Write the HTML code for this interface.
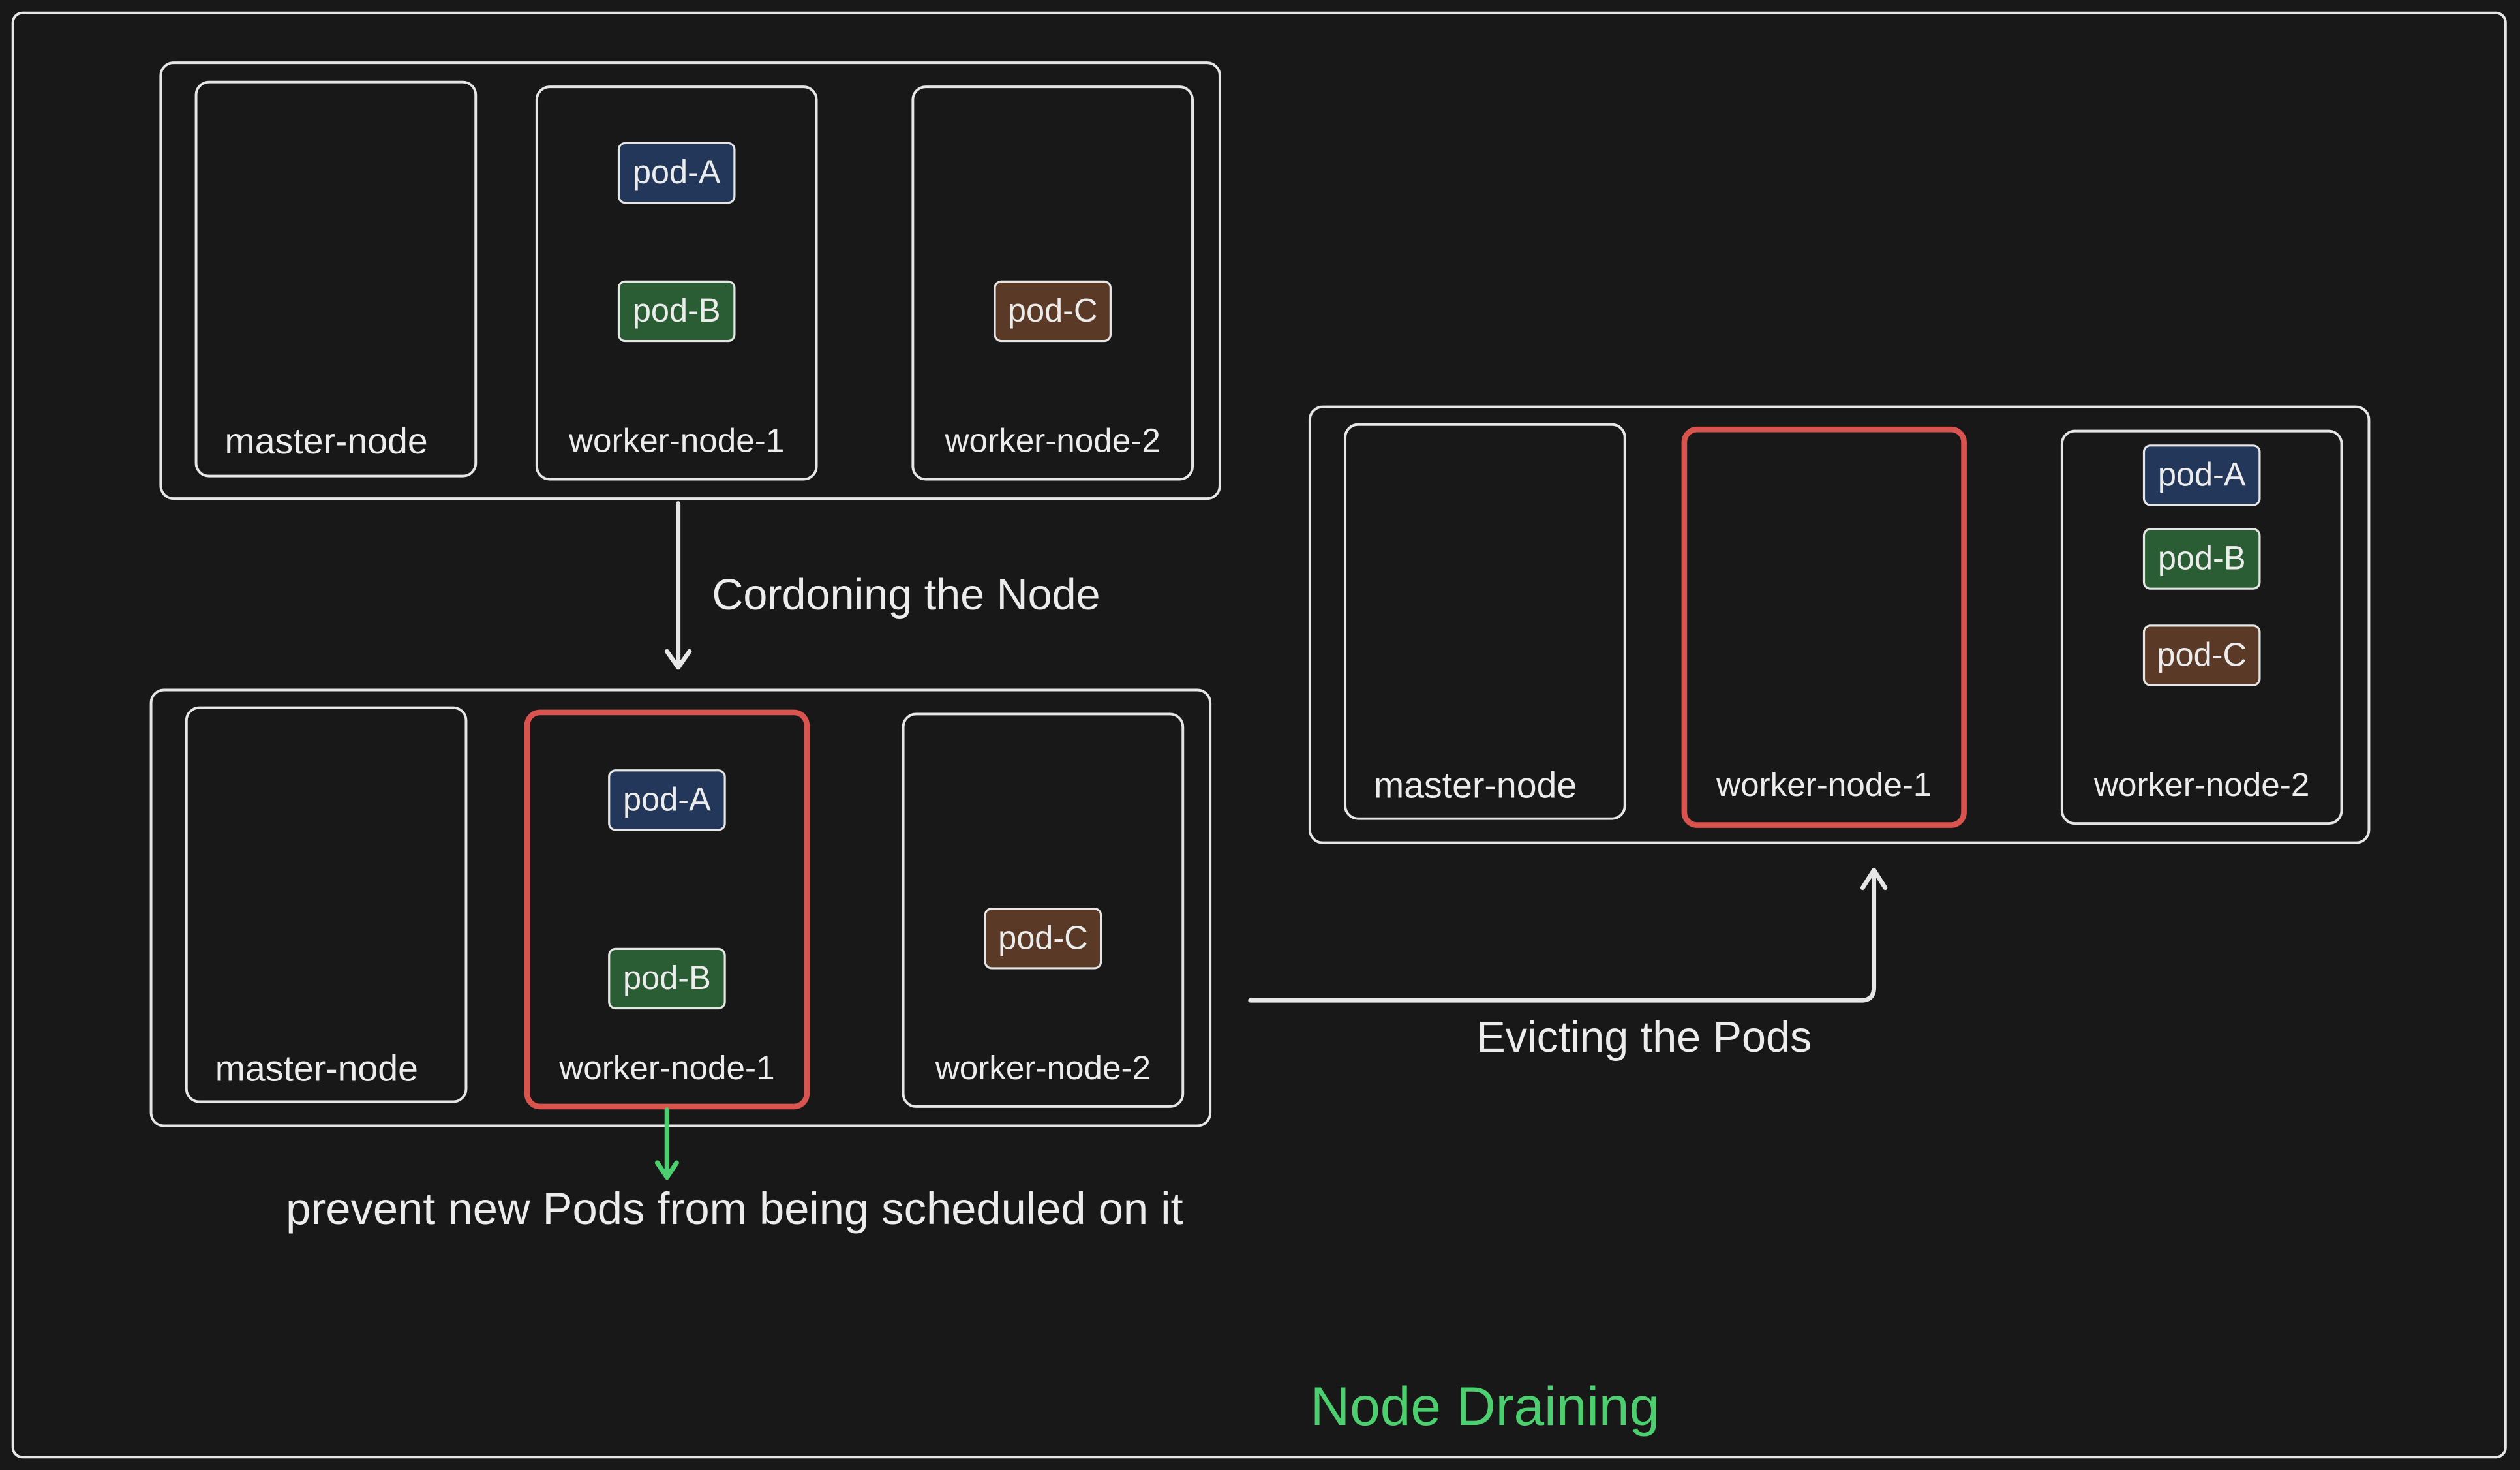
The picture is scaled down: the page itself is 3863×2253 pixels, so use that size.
<!DOCTYPE html>
<html><head><meta charset="utf-8"><style>
html,body{margin:0;padding:0;background:#181818;}
svg{display:block;}
text{font-family:"Liberation Sans",sans-serif;fill:#ececec;}
</style></head><body>
<svg width="3863" height="2253" viewBox="0 0 1568 914" preserveAspectRatio="none" xmlns="http://www.w3.org/2000/svg">
<rect x="0" y="0" width="1568" height="914" fill="#181818"/>
<g fill="none" stroke="#e6e6e6" stroke-width="1.6">
<rect x="8" y="8" width="1551" height="898" rx="6"/>
<rect x="100" y="39" width="659" height="271" rx="8"/>
<rect x="122" y="51" width="174" height="245" rx="8"/>
<rect x="334" y="54" width="174" height="244" rx="8"/>
<rect x="568" y="54" width="174" height="244" rx="8"/>
<rect x="94" y="429" width="659" height="271" rx="8"/>
<rect x="116" y="440" width="174" height="245" rx="8"/>
<rect x="562" y="444" width="174" height="244" rx="8"/>
<rect x="815" y="253" width="659" height="271" rx="8"/>
<rect x="837" y="264" width="174" height="245" rx="8"/>
<rect x="1283" y="268" width="174" height="244" rx="8"/>
</g>
<g fill="none" stroke="#d9534f" stroke-width="3.5">
<rect x="328" y="443" width="174" height="245" rx="8"/>
<rect x="1048" y="267" width="174" height="246" rx="8"/>
</g>
<g stroke="#e6e6e6" stroke-width="1.3">
<rect x="385" y="89" width="72" height="37" rx="4" fill="#22375a"/>
<rect x="385" y="175" width="72" height="37" rx="4" fill="#2b5d35"/>
<rect x="619" y="175" width="72" height="37" rx="4" fill="#5a3a26"/>
<rect x="379" y="479" width="72" height="37" rx="4" fill="#22375a"/>
<rect x="379" y="590" width="72" height="37" rx="4" fill="#2b5d35"/>
<rect x="613" y="565" width="72" height="37" rx="4" fill="#5a3a26"/>
<rect x="1334" y="277" width="72" height="37" rx="4" fill="#22375a"/>
<rect x="1334" y="329" width="72" height="37" rx="4" fill="#2b5d35"/>
<rect x="1334" y="389" width="72" height="37" rx="4" fill="#5a3a26"/>
</g>
<g font-size="20.5" text-anchor="middle">
<text x="421" y="114">pod-A</text>
<text x="421" y="200">pod-B</text>
<text x="655" y="200">pod-C</text>
<text x="415" y="504">pod-A</text>
<text x="415" y="615">pod-B</text>
<text x="649" y="590">pod-C</text>
<text x="1370" y="302">pod-A</text>
<text x="1370" y="354">pod-B</text>
<text x="1370" y="414">pod-C</text>
</g>
<g font-size="22.5" text-anchor="middle">
<text x="203" y="282">master-node</text>
<text x="197" y="672">master-node</text>
<text x="918" y="496">master-node</text>
</g>
<g font-size="20.8" text-anchor="middle">
<text x="421" y="281">worker-node-1</text>
<text x="655" y="281">worker-node-2</text>
<text x="415" y="671">worker-node-1</text>
<text x="649" y="671">worker-node-2</text>
<text x="1135" y="495">worker-node-1</text>
<text x="1370" y="495">worker-node-2</text>
</g>
<g fill="none" stroke="#e6e6e6" stroke-width="2.8" stroke-linecap="round" stroke-linejoin="round">
<path d="M422 313 L422 414"/>
<path d="M415 405 L422 415 L429 405"/>
<path d="M778 622 L1158 622 Q1166 622 1166 614 L1166 542"/>
<path d="M1159 552 L1166 541 L1173 552"/>
</g>
<g fill="none" stroke="#4ccf6e" stroke-width="3" stroke-linecap="round" stroke-linejoin="round">
<path d="M415 690 L415 731"/>
<path d="M409 723 L415 732 L421 723"/>
</g>
<text x="443" y="379" font-size="27">Cordoning the Node</text>
<text x="1023" y="654" font-size="27" text-anchor="middle">Evicting the Pods</text>
<text x="457" y="761" font-size="27.9" text-anchor="middle">prevent new Pods from being scheduled on it</text>
<text x="924" y="886" font-size="34" text-anchor="middle" style="fill:#4ccf6e">Node Draining</text>
</svg>
</body></html>
